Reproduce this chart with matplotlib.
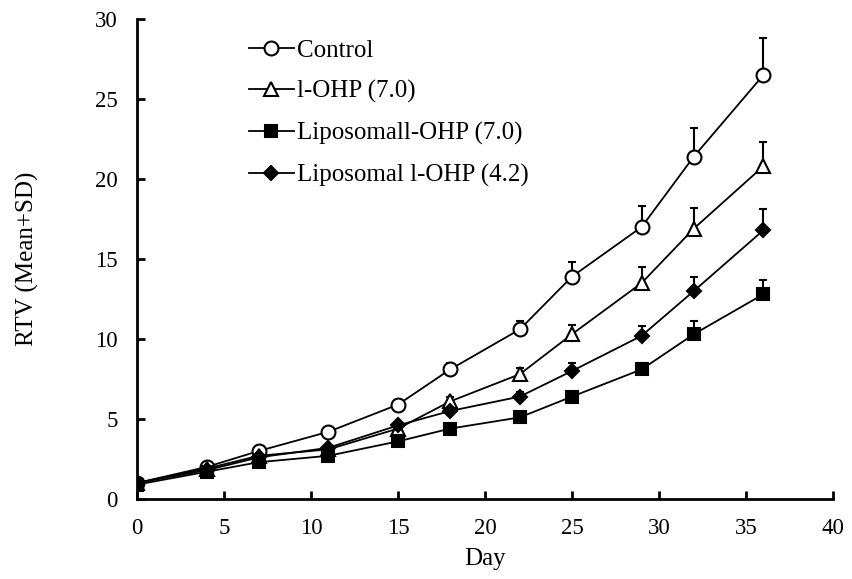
import numpy as np
import matplotlib.pyplot as plt

plt.rcParams['font.family'] = ['Liberation Serif', 'DejaVu Serif']

days = [0, 4, 7, 11, 15, 18, 22, 25, 29, 32, 36]

control = [1.0, 2.0, 3.0, 4.2, 5.9, 8.1, 10.6, 13.9, 17.0, 21.4, 26.5]
control_sd = [0.0, 0.1, 0.1, 0.2, 0.3, 0.4, 0.5, 0.9, 1.3, 1.8, 2.3]

lohp = [1.0, 1.9, 2.7, 3.1, 4.4, 6.1, 7.8, 10.3, 13.5, 16.9, 20.8]
lohp_sd = [0.0, 0.1, 0.1, 0.2, 0.2, 0.3, 0.4, 0.6, 1.0, 1.3, 1.5]

lipo70 = [0.9, 1.7, 2.3, 2.7, 3.6, 4.4, 5.1, 6.4, 8.1, 10.3, 12.8]
lipo70_sd = [0.0, 0.1, 0.1, 0.1, 0.2, 0.2, 0.3, 0.3, 0.4, 0.8, 0.9]

lipo42 = [1.0, 1.8, 2.6, 3.2, 4.6, 5.5, 6.4, 8.0, 10.2, 13.0, 16.8]
lipo42_sd = [0.0, 0.1, 0.1, 0.2, 0.2, 0.3, 0.3, 0.5, 0.6, 0.9, 1.3]

labels = ['Control', 'l-OHP (7.0)', 'Liposomall-OHP (7.0)', 'Liposomal l-OHP (4.2)']

fig = plt.figure(figsize=(8.53, 5.79), dpi=100)
ax = fig.add_axes([0.1606, 0.1382, 0.816, 0.829])

series = [
    (control, control_sd, 'o', 'white', 10),
    (lohp, lohp_sd, '^', 'white', 10),
    (lipo70, lipo70_sd, 's', 'black', 9),
    (lipo42, lipo42_sd, 'D', 'black', 7.5),
]

for (vals, sd, mk, fc, ms), lab in zip(series, labels):
    err = [np.zeros(len(sd)), sd]
    ax.errorbar(days, vals, yerr=err, color='black', lw=1.3, marker=mk,
                markersize=ms, markerfacecolor=fc, markeredgecolor='black',
                markeredgewidth=1.5, capsize=3, capthick=1.5, elinewidth=1.5,
                label=lab)

ax.set_xlim(0, 40)
ax.set_ylim(0, 30)
ax.set_xticks(range(0, 41, 5))
ax.set_yticks(range(0, 31, 5))
ax.spines['top'].set_visible(False)
ax.spines['right'].set_visible(False)
ax.spines['left'].set_linewidth(2)
ax.spines['bottom'].set_linewidth(2)
ax.tick_params(direction='in', length=6, width=2, labelsize=16.5)
ax.tick_params(axis='x', pad=14)
ax.tick_params(axis='y', pad=14)

ax.set_xlabel('Day', fontsize=18, labelpad=6)
ax.set_ylabel('RTV (Mean+SD)', fontsize=18, labelpad=40)

handles, labs = ax.get_legend_handles_labels()
handles = [h[0] for h in handles]
ax.legend(handles, labs, loc='upper left', bbox_to_anchor=(0.128, 1.005),
          frameon=False, fontsize=18, handlelength=1.8, handletextpad=0.15,
          labelspacing=0.75)

fig.savefig('out.png', dpi=100)
